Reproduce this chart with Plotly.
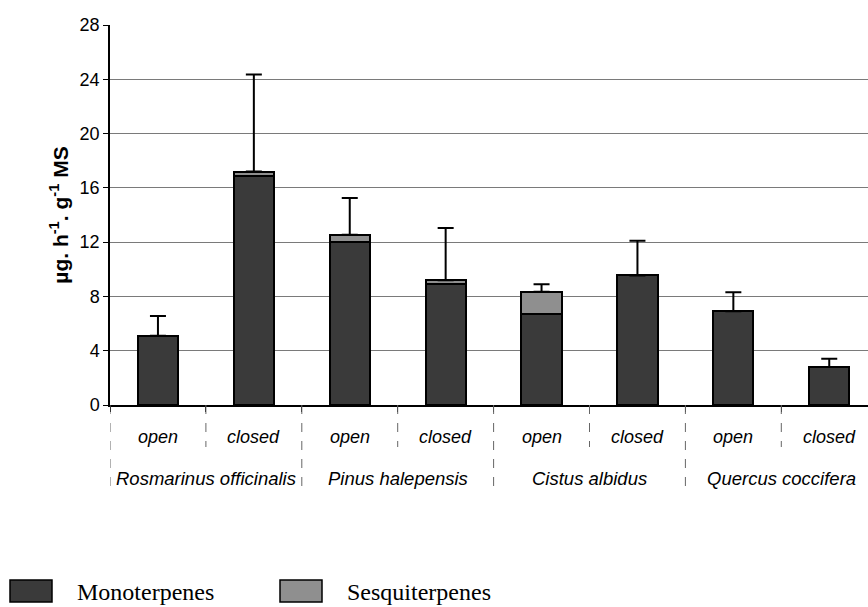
import plotly.graph_objects as go

# ---- data ----
species = ["Rosmarinus officinalis", "Pinus halepensis", "Cistus albidus", "Quercus coccifera"]
states = ["open", "closed"]
monoterpenes = [5.1, 16.9, 12.0, 8.95, 6.7, 9.55, 6.9, 2.8]
sesquiterpenes = [0.0, 0.3, 0.55, 0.25, 1.65, 0.0, 0.0, 0.0]
error_plus = [1.45, 7.15, 2.7, 3.85, 0.55, 2.55, 1.4, 0.6]
y_ticks = [0, 4, 8, 12, 16, 20, 24, 28]

W, H = 868, 607
L, R, T, B = 110, 0, 25, 202
PW, PH = W - L - R, H - T - B

def px(x):
    return (x - L) / PW

def py(y):
    return (H - B - y) / PH

n = len(monoterpenes)
xs = list(range(n))
totals = [m + s for m, s in zip(monoterpenes, sesquiterpenes)]
state_labels = [states[i % 2] for i in xs]

MONO = "#3a3a3a"
SESQ = "#8f8f8f"
FONT = "Liberation Sans"

fig = go.Figure()
fig.add_trace(go.Bar(x=xs, y=monoterpenes, name="Monoterpenes", width=0.42,
                     marker=dict(color=MONO, line=dict(color="black", width=2)),
                     showlegend=False))
fig.add_trace(go.Bar(x=xs, y=sesquiterpenes, name="Sesquiterpenes", width=0.42,
                     marker=dict(color=SESQ, line=dict(color="black", width=2)),
                     showlegend=False))
fig.add_trace(go.Scatter(x=xs, y=totals, mode="markers",
                         marker=dict(color="rgba(0,0,0,0)", size=1),
                         error_y=dict(type="data", symmetric=False, array=error_plus,
                                      arrayminus=[0] * n, color="black",
                                      thickness=2, width=8),
                         showlegend=False, hoverinfo="skip"))

# x labels: state row and species row
for i, lab in zip(xs, state_labels):
    fig.add_annotation(x=i, y=py(437), xref="x", yref="paper", text="<i>" + lab + "</i>",
                       showarrow=False, font=dict(family=FONT, size=18, color="black"),
                       xanchor="center", yanchor="middle")
for k, sp in enumerate(species):
    fig.add_annotation(x=2 * k + 0.5, y=py(478), xref="x", yref="paper",
                       text="<i>" + sp + "</i>", showarrow=False,
                       font=dict(family=FONT, size=18.5, color="black"),
                       xanchor="center", yanchor="middle")

# dashed separators
shapes = []
for b in range(n + 1):
    xb = b - 0.5
    bottom = py(490) if b % 2 == 0 else py(447)
    shapes.append(dict(type="line", xref="x", yref="paper", x0=xb, x1=xb,
                       y0=0, y1=bottom,
                       line=dict(color="#666666", width=1, dash="dash")))

# custom legend
legend_items = [("Monoterpenes", MONO, 10), ("Sesquiterpenes", SESQ, 280)]
for name, col, x0 in legend_items:
    shapes.append(dict(type="rect", xref="paper", yref="paper",
                       x0=px(x0), x1=px(x0 + 42), y0=py(602), y1=py(580),
                       fillcolor=col, line=dict(color="black", width=1.5)))
    fig.add_annotation(x=px(x0 + 65), y=py(592), xref="paper", yref="paper",
                       text=name, showarrow=False, xanchor="left", yanchor="middle",
                       font=dict(family="Liberation Serif", size=24, color="black"))

fig.update_layout(
    width=W, height=H,
    margin=dict(l=L, r=R, t=T, b=B),
    plot_bgcolor="white", paper_bgcolor="white",
    barmode="stack", bargap=0.5,
    shapes=shapes,
    showlegend=False,
    xaxis=dict(range=[-0.5, -0.5 + PW / 95.9], tickvals=[b - 0.5 for b in range(n + 1)],
               showticklabels=False, ticks="outside", ticklen=5, tickcolor="black",
               showline=True, linecolor="black", linewidth=1.5, showgrid=False,
               zeroline=False, fixedrange=True),
    yaxis=dict(range=[0, 28], tickvals=y_ticks, ticks="outside", ticklen=5,
               tickcolor="black", showline=True, linecolor="black", linewidth=1.5,
               showgrid=True, gridcolor="#7a7a7a", gridwidth=1, zeroline=False,
               tickfont=dict(family=FONT, size=18, color="black"),
               title=dict(text="<b>µg. h<sup>-1</sup>. g<sup>-1</sup> MS</b>",
                          font=dict(family=FONT, size=21, color="black"),
                          standoff=5)),
)

fig.write_html("out.html", config={"displayModeBar": False},
               post_script="document.body.style.margin='0';")
